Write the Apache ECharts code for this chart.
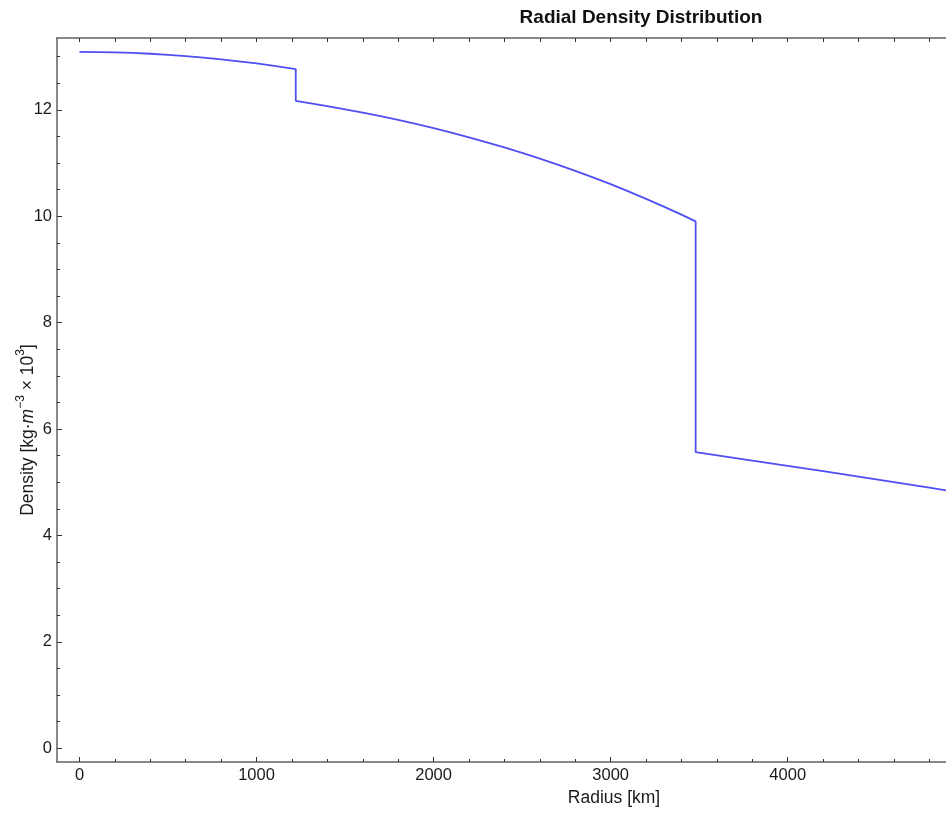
<!DOCTYPE html>
<html>
<head>
<meta charset="utf-8">
<script src="https://cdn.jsdelivr.net/npm/echarts@6/dist/echarts.min.js"></script>
<style>
html,body{margin:0;padding:0;background:#fff;}
#chart{width:946px;height:813px;}
</style>
</head>
<body>
<div id="chart"></div>
<script>
// Data (radius in km, density in kg·m^-3 × 10^3)
const radius = [0, 100, 200, 300, 400, 500, 600, 700, 800, 900, 1000, 1100, 1221.5,
  1221.5, 1400, 1500, 1600, 1700, 1800, 1900, 2000, 2100, 2200, 2300, 2400, 2500, 2600, 2700, 2800, 2900,
  3000, 3100, 3200, 3300, 3400, 3480,
  3480, 3800, 4000, 4200, 4400, 4600, 4800, 5000];
const density = [13.088, 13.086, 13.080, 13.069, 13.054, 13.034, 13.010, 12.982, 12.949, 12.912, 12.871, 12.825, 12.764,
  12.166, 12.069, 12.010, 11.947, 11.880, 11.809, 11.734, 11.655, 11.571, 11.483, 11.390, 11.293, 11.191, 11.083, 10.971, 10.853, 10.730,
  10.602, 10.467, 10.327, 10.181, 10.029, 9.903,
  5.566, 5.407, 5.307, 5.207, 5.106, 5.003, 4.898, 4.790];

const xMajorTicks = [0, 1000, 2000, 3000, 4000, 5000, 6000];
const xMinorTicks = [200, 400, 600, 800, 1200, 1400, 1600, 1800, 2200, 2400, 2600, 2800,
  3200, 3400, 3600, 3800, 4200, 4400, 4600, 4800, 5200, 5400, 5600, 5800, 6200, 6400];
const xTopTicks = [0, 200, 400, 600, 800, 1000, 1200, 1400, 1600, 1800, 2000, 2200, 2400, 2600, 2800,
  3000, 3200, 3400, 3600, 3800, 4000, 4200, 4400, 4600, 4800, 5000, 5200, 5400, 5600, 5800, 6000, 6200, 6400];
const yMajorTicks = [0, 2, 4, 6, 8, 10, 12];
const yMinorTicks = [0.5, 1, 1.5, 2.5, 3, 3.5, 4.5, 5, 5.5, 6.5, 7, 7.5, 8.5, 9, 9.5, 10.5, 11, 11.5, 12.5, 13];

const titleText = 'Radial Density Distribution';
const xName = 'Radius [km]';

const X_MIN = -127, X_MAX = 6498, Y_MIN = -0.26, Y_MAX = 13.35;
const frameColor = '#606060';
const tickColor = '#333333';
const fontFam = '"Liberation Sans", Arial, sans-serif';

const chart = echarts.init(document.getElementById('chart'), null, {renderer: 'canvas'});
const data = radius.map((r, i) => [r, density[i]]);

const baseX = {
  type: 'value', min: X_MIN, max: X_MAX, gridIndex: 0,
  splitLine: {show: false}
};
const baseY = {
  type: 'value', min: Y_MIN, max: Y_MAX, gridIndex: 0,
  splitLine: {show: false}
};
const plain = v => String(v);

chart.setOption({
  animation: false,
  backgroundColor: '#ffffff',
  grid: {left: 57, top: 38, width: 1173, height: 724, containLabel: false, outerBoundsMode: 'none'},
  xAxis: [
    Object.assign({}, baseX, {
      position: 'bottom',
      axisLine: {show: true, onZero: false, lineStyle: {color: frameColor, width: 1.5}},
      axisTick: {show: true, inside: true, length: 5, customValues: xMajorTicks, lineStyle: {color: tickColor, width: 1}},
      axisLabel: {show: true, customValues: xMajorTicks, formatter: plain, margin: 5, color: '#1a1a1a', fontSize: 16.5, fontFamily: fontFam,
        showMinLabel: true, showMaxLabel: true}
    }),
    Object.assign({}, baseX, {
      position: 'bottom',
      axisLine: {show: false, onZero: false},
      axisTick: {show: true, inside: true, length: 3, customValues: xMinorTicks, lineStyle: {color: tickColor, width: 1}},
      axisLabel: {show: false}
    }),
    Object.assign({}, baseX, {
      position: 'top',
      axisLine: {show: true, onZero: false, lineStyle: {color: frameColor, width: 1.5}},
      axisTick: {show: true, inside: true, length: 4, customValues: xTopTicks, lineStyle: {color: tickColor, width: 1}},
      axisLabel: {show: false}
    })
  ],
  yAxis: [
    Object.assign({}, baseY, {
      position: 'left',
      axisLine: {show: true, onZero: false, lineStyle: {color: frameColor, width: 1.5}},
      axisTick: {show: true, inside: true, length: 5, customValues: yMajorTicks, lineStyle: {color: tickColor, width: 1}},
      axisLabel: {show: true, customValues: yMajorTicks, formatter: plain, margin: 5, color: '#1a1a1a', fontSize: 16.5, fontFamily: fontFam}
    }),
    Object.assign({}, baseY, {
      position: 'left',
      axisLine: {show: false, onZero: false},
      axisTick: {show: true, inside: true, length: 3, customValues: yMinorTicks, lineStyle: {color: tickColor, width: 1}},
      axisLabel: {show: false}
    })
  ],
  series: [{
    type: 'line',
    xAxisIndex: 0, yAxisIndex: 0,
    data: data,
    showSymbol: false,
    smooth: false,
    clip: true,
    lineStyle: {color: '#4f4ff2', width: 1.8}
  }],
  graphic: [
    {type: 'text', x: 641, y: 8, style: {text: titleText, font: 'bold 19px ' + fontFam, fill: '#111', textAlign: 'center', textVerticalAlign: 'top'}},
    {type: 'text', x: 614, y: 789, style: {text: xName, font: '17.5px ' + fontFam, fill: '#1a1a1a', textAlign: 'center', textVerticalAlign: 'top'}},
    {type: 'text', x: 26, y: 430, rotation: Math.PI / 2,
      style: {
        text: '{n|Density [kg·}{i|m}{s|−3}{n| × 10}{s|3}{n|]}',
        rich: {
          n: {font: '17.5px ' + fontFam, fill: '#1a1a1a', verticalAlign: 'bottom', lineHeight: 22},
          i: {font: 'italic 17.5px ' + fontFam, fill: '#1a1a1a', verticalAlign: 'bottom', lineHeight: 22},
          s: {font: '12px ' + fontFam, fill: '#1a1a1a', verticalAlign: 'top', lineHeight: 22}
        },
        textAlign: 'center', textVerticalAlign: 'middle'
      }}
  ]
});
</script>
</body>
</html>
